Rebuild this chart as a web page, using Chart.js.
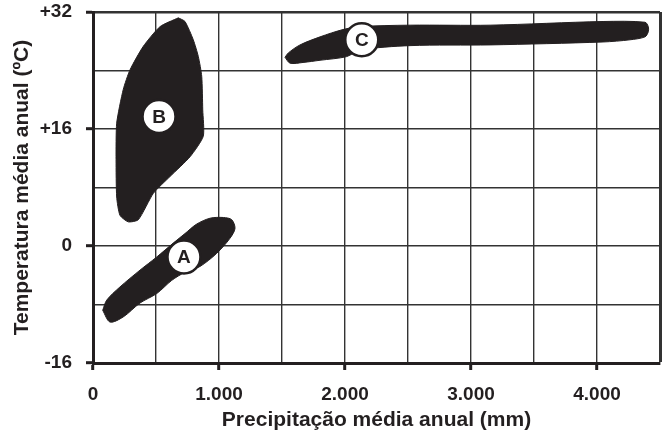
<!DOCTYPE html>
<html>
<head>
<meta charset="utf-8">
<script src="https://cdn.jsdelivr.net/npm/chart.js@4/dist/chart.umd.min.js"></script>
<style>
html,body{margin:0;padding:0;background:#fff;}
canvas{display:block;}
</style>
</head>
<body>
<canvas id="c" width="667" height="436"></canvas>
<script>
// ---- data ----
const xTickValues = [0, 1000, 2000, 3000, 4000];
const xTickLabels = ['0', '1.000', '2.000', '3.000', '4.000'];
const yTickValues = [-16, 0, 16, 32];
const yTickLabels = ['-16', '0', '+16', '+32'];

const regionNames = ['A', 'B', 'C'];

const regionA_precip = [77, 135, 240, 373, 506, 625, 730, 849, 982, 1087, 1127, 1101, 1034, 929, 823, 730, 637, 506, 373, 214, 109, 77];
const regionA_temp   = [-8.8, -10.4, -9.7, -7.8, -6.5, -4.7, -3.6, -2.8, -1.0, 1.05, 2.4, 3.6, 3.9, 3.8, 3.0, 1.7, 0.4, -1.5, -3.3, -5.6, -7.4, -8.8];

const regionB_precip = [677, 532, 399, 294, 240, 188, 183, 188, 214, 280, 360, 479, 611, 770, 875, 871, 863, 836, 796, 730, 677];
const regionB_temp   = [31.2, 30.0, 27.3, 24.1, 21.4, 16.8, 11.8, 6.7, 4.2, 3.3, 3.6, 7.2, 9.5, 12.2, 15.0, 18.6, 23.2, 25.9, 28.2, 30.7, 31.2];

const regionC_precip = [1524, 1550, 1643, 1802, 1984, 2119, 2516, 3151, 4048, 4381, 4407, 4407, 4381, 4262, 4048, 3151, 2516, 2119, 2013, 1802, 1667, 1564, 1524];
const regionC_temp   = [25.8, 26.4, 27.5, 28.6, 29.6, 30.0, 30.2, 30.2, 30.7, 30.6, 30.0, 29.3, 28.6, 28.2, 27.9, 27.5, 27.4, 26.8, 25.9, 25.4, 25.1, 25.0, 25.8];

const labelPrecip = [722, 524, 2133];
const labelTemp   = [-1.5, 17.7, 28.2];

const xTitle = 'Precipitação média anual (mm)';
const yTitle = 'Temperatura média anual (ºC)';

// ---- build ----
const INK = '#231f20';
const FAMILY = '"Liberation Sans", Arial, sans-serif';
const toPts = (xs, ys) => xs.map((x, i) => ({x: x, y: ys[i]}));
const blob = (xs, ys, t) => ({
  type: 'scatter',
  data: toPts(xs, ys),
  showLine: true,
  fill: 'shape',
  backgroundColor: INK,
  borderColor: INK,
  borderWidth: 1,
  tension: t,
  pointRadius: 0,
  order: 1
});

const letterPlugin = {
  id: 'letters',
  afterDatasetsDraw(chart) {
    const meta = chart.getDatasetMeta(3);
    const ctx = chart.ctx;
    ctx.save();
    ctx.fillStyle = INK;
    ctx.font = 'bold 19px ' + FAMILY;
    ctx.textAlign = 'center';
    ctx.textBaseline = 'middle';
    meta.data.forEach((pt, i) => {
      ctx.fillText(regionNames[i], pt.x, pt.y + 1);
    });
    ctx.restore();
  }
};

const zeroPad = s => { s.paddingTop = 0; s.paddingBottom = 0; s.paddingLeft = 0; s.paddingRight = 0; };
const TICKFONT = {family: FAMILY, weight: 'bold', size: 19};
const TITLEFONT = {family: FAMILY, weight: 'bold', size: 21};

new Chart(document.getElementById('c'), {
  type: 'scatter',
  data: {
    datasets: [
      blob(regionA_precip, regionA_temp, 0.3),
      blob(regionB_precip, regionB_temp, 0.2),
      blob(regionC_precip, regionC_temp, 0.3),
      {
        type: 'scatter',
        data: toPts(labelPrecip, labelTemp),
        pointRadius: 16.5,
        pointHoverRadius: 16.5,
        pointBackgroundColor: '#ffffff',
        pointBorderColor: INK,
        pointBorderWidth: 2.5,
        order: 0
      }
    ]
  },
  options: {
    responsive: false,
    devicePixelRatio: 1,
    animation: false,
    events: [],
    layout: {autoPadding: false, padding: {top: 12, right: 7, left: 0, bottom: 0}},
    plugins: {legend: {display: false}, tooltip: {enabled: false}},
    scales: {
      x: {
        type: 'linear',
        min: 0, max: 4500,
        afterFit: s => { s.height = 73; zeroPad(s); },
        border: {display: true, color: INK, width: 3},
        grid: {
          color: '#333333',
          lineWidth: c => (c.tick && c.tick.value === 4500) ? 3 : 1.4,
          drawTicks: true,
          tickLength: 7,
          tickWidth: 3,
          tickColor: c => (c.tick && xTickValues.includes(c.tick.value)) ? INK : 'rgba(0,0,0,0)'
        },
        ticks: {
          stepSize: 500,
          autoSkip: false,
          maxRotation: 0,
          color: INK,
          font: TICKFONT,
          padding: 13,
          callback: v => { const i = xTickValues.indexOf(v); return i >= 0 ? xTickLabels[i] : ''; }
        },
        title: {display: true, text: xTitle, color: INK, font: TITLEFONT, padding: {top: 0, bottom: 3}}
      },
      y: {
        type: 'linear',
        min: -16, max: 32,
        afterFit: s => { s.width = 93; zeroPad(s); },
        border: {display: true, color: INK, width: 3},
        grid: {
          color: '#333333',
          lineWidth: c => (c.tick && c.tick.value === 32) ? 2.5 : 1.4,
          drawTicks: true,
          tickLength: 7,
          tickWidth: 3,
          tickColor: c => (c.tick && yTickValues.includes(c.tick.value)) ? INK : 'rgba(0,0,0,0)'
        },
        ticks: {
          stepSize: 8,
          autoSkip: false,
          color: INK,
          font: TICKFONT,
          padding: 14,
          callback: v => { const i = yTickValues.indexOf(v); return i >= 0 ? yTickLabels[i] : ''; }
        },
        title: {display: true, text: yTitle, color: INK, font: TITLEFONT, padding: {top: 10, bottom: 0}}
      }
    }
  },
  plugins: [letterPlugin]
});
</script>
</body>
</html>
